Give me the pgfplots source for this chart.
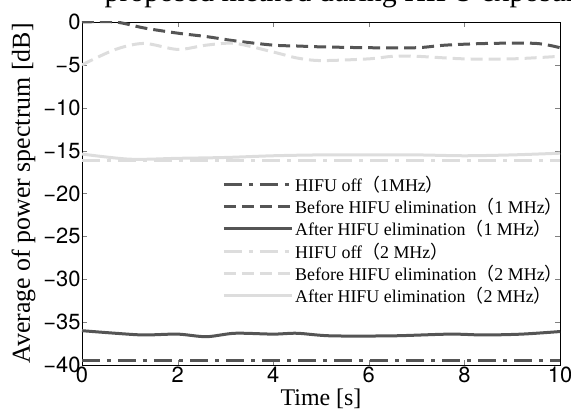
\documentclass[border=0pt]{standalone}
\usepackage{fontspec}
\setmainfont{Liberation Serif}
\newfontfamily\heros{TeX Gyre Heros}
\newfontfamily\cjk{Noto Sans CJK JP}
\usepackage{pgfplots}
\pgfplotsset{compat=1.18}

\definecolor{darkg}{RGB}{85,85,85}
\definecolor{lightg}{RGB}{221,221,221}
\newcommand{\lp}{{\cjk （}}
\newcommand{\rp}{{\cjk ）}}

\begin{document}
\begin{tikzpicture}
\begin{axis}[
  scale only axis,
  width=478bp, height=343bp,
  xmin=0, xmax=10, ymin=-40, ymax=0,
  xtick={0,2,...,10},
  ytick={-40,-35,...,0},
  yticklabels={−40,−35,−30,−25,−20,−15,−10,−5,0},
  tick align=inside,
  major tick length=5bp,
  tick label style={font=\heros\fontsize{22}{22}\selectfont},
  /pgf/number format/assume math mode=true,
  xticklabel style={yshift=2bp},
  yticklabel style={xshift=2bp},
  xlabel={Time [s]},
  ylabel={Average of power spectrum [dB]},
  xlabel style={font=\fontsize{24}{24}\selectfont, at={(0.5,0)}, anchor=base, yshift=-41bp},
  ylabel style={font=\fontsize{26}{26}\selectfont, at={(0,0.5)}, anchor=base, yshift=52bp},
  title={proposed method during HIFU exposure},
  title style={font=\fontsize{30}{30}\selectfont, at={(0.5,1)}, anchor=base, yshift=15bp, xshift=26bp},
  legend style={draw=none, fill=none, at={(0.293,0.558)}, anchor=north west,
    font=\fontsize{18}{18}\selectfont, row sep=1.5bp, inner sep=0pt},
  legend cell align=left,
  legend image code/.code={\draw[#1] (0bp,0bp) -- (68bp,0bp);},
  every axis plot/.append style={line width=3bp},
]
% HIFU off (1 MHz)
\addplot[darkg, dash pattern=on 18bp off 7bp on 4bp off 7bp] coordinates {
 (0,-39.5) (10,-39.5)};
\addlegendentry{HIFU off\lp 1MHz\rp}
% Before HIFU elimination (1 MHz)
\addplot[darkg, smooth, dash pattern=on 12bp off 6bp] coordinates {
 (0,0) (0.7,0) (1.3,-0.7) (2,-1.3) (2.6,-1.7) (3.2,-2.2) (4,-2.7) (4.5,-2.8)
 (5,-2.9) (6,-3) (7,-3) (7.6,-2.7) (8.5,-2.5) (9.5,-2.5) (10,-3)};
\addlegendentry{Before HIFU elimination\lp 1 MHz\rp}
% After HIFU elimination (1 MHz)
\addplot[darkg, smooth] coordinates {
 (0,-36) (0.7,-36.3) (1.3,-36.5) (2,-36.4) (2.6,-36.7) (3.2,-36.3) (4,-36.4)
 (4.5,-36.3) (5.2,-36.6) (6.5,-36.6) (7.7,-36.4) (8.4,-36.5) (9.2,-36.4) (10,-36.1)};
\addlegendentry{After HIFU elimination\lp 1 MHz\rp}
% HIFU off (2 MHz)
\addplot[lightg, dash pattern=on 18bp off 7bp on 4bp off 7bp] coordinates {
 (0,-16.2) (10,-16.2)};
\addlegendentry{HIFU off\lp 2 MHz\rp}
% Before HIFU elimination (2 MHz)
\addplot[lightg, smooth, dash pattern=on 12bp off 6bp] coordinates {
 (0,-5) (0.7,-3.2) (1.3,-2.5) (2,-3.2) (2.6,-2.7) (3.2,-2.5) (4,-3.5) (4.5,-4.2)
 (5,-4.5) (6,-4.3) (6.5,-4) (7,-4) (8,-4.3) (9,-4.3) (10,-4)};
\addlegendentry{Before HIFU elimination\lp 2 MHz\rp}
% After HIFU elimination (2 MHz)
\addplot[lightg, smooth] coordinates {
 (0,-15.4) (1,-16) (2,-15.9) (3,-15.8) (4,-15.6) (5,-15.5) (6,-15.5) (7,-15.5)
 (8,-15.6) (9,-15.5) (10,-15.3)};
\addlegendentry{After HIFU elimination\lp 2 MHz\rp}
\end{axis}
\pgfresetboundingbox
\path[use as bounding box] ([shift={(-82bp,-47bp)}]current axis.south west)
  rectangle ([shift={(11bp,22bp)}]current axis.north east);
\end{tikzpicture}
\end{document}
